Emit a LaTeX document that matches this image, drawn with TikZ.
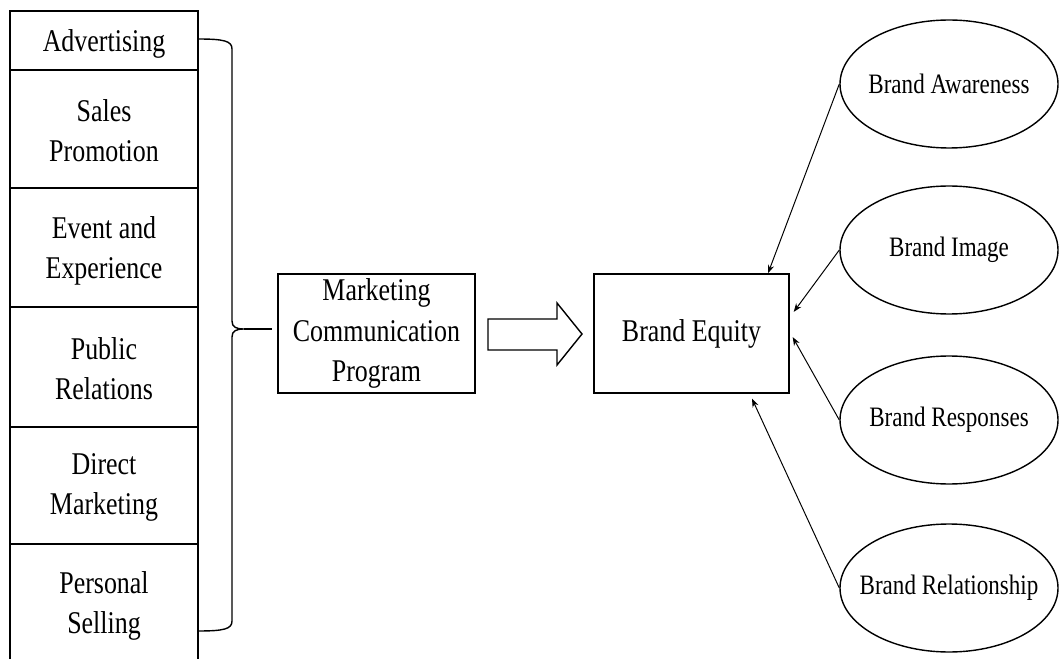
\documentclass[tikz,border=0pt]{standalone}
\usepackage{fontspec}
\setmainfont{Liberation Serif}[FakeStretch=0.82]
\usetikzlibrary{arrows.meta,shapes.geometric}
\tikzset{
	cell/.style={align=center, inner sep=0pt, font=\fontsize{22.5}{28.5}\selectfont},
	box/.style={draw, line width=1pt, minimum height=2.975cm, inner sep=0pt, align=center, font=\fontsize{22.5}{28.5}\selectfont},
	dim/.style={draw, ellipse, line width=1pt, minimum width=5.45cm, minimum height=3.2cm, inner xsep=-0.5cm, inner ysep=0pt, font=\fontsize{20}{24}\selectfont},
	link/.style={line width=0.7pt, -{Stealth[length=6pt,width=4.5pt]}}
}

\begin{document}
\begin{tikzpicture}
			%%%%% START %%%%%
			\useasboundingbox (0, 0) rectangle (26.475, 16.475);
			
			% column of communication tools
			\draw[line width=1pt] (0.25, 0) -- (0.25, 16.2) -- (4.95, 16.2) -- (4.95, 0);
			\foreach \y in {14.725, 11.775, 8.8, 5.8, 2.875}
				\draw[line width=1pt] (0.25, \y) -- (4.95, \y);
			
			\node[cell] (adv) at (2.6, 15.38) {Advertising};
			\node[cell] (sales) at (2.6, 13.2) {Sales\\Promotion};
			\node[cell] (event) at (2.6, 10.2) {Event and\\Experience};
			\node[cell] (pr) at (2.6, 7.25) {Public\\Relations};
			\node[cell] (direct) at (2.6, 4.3) {Direct\\Marketing};
			\node[cell] (selling) at (2.6, 1.33) {Personal\\Selling};
			
			% brace
			\coordinate (tip) at (6.1, 8.25);
			\draw[line width=1pt] (4.95, 15.5) .. controls (5.6, 15.5) and (5.8, 15.45) .. (5.8, 15.25)
				-- (5.8, 8.45) .. controls (5.8, 8.3) and (5.9, 8.25) .. (tip)
				.. controls (5.9, 8.25) and (5.8, 8.2) .. (5.8, 8.05)
				-- (5.8, 0.95) .. controls (5.8, 0.75) and (5.6, 0.7) .. (4.95, 0.7);
			\draw[line width=1pt] (tip) -- ++(0.7, 0);
			
			\node[box, minimum width=4.925cm] (mcp) at (9.4125, 8.1375) {Marketing\\Communication\\Program};
			
			% block arrow
			\draw[line width=1pt] (12.2, 8.5) -- (13.925, 8.5) -- (13.925, 8.9) -- (14.55, 8.125)
				-- (13.925, 7.35) -- (13.925, 7.725) -- (12.2, 7.725) -- cycle;
			
			\node[box, minimum width=4.875cm] (equity) at (17.2875, 8.1375) {Brand Equity};
			
			% dimensions
			\node[dim] (aware) at (23.725, 14.375) {Brand Awareness};
			\node[dim] (image) at (23.725, 10.225) {Brand Image};
			\node[dim] (resp) at (23.725, 5.975) {Brand Responses};
			\node[dim] (rel) at (23.725, 1.775) {Brand Relationship};
			
			\draw[link] (aware.west) -- ([xshift=1.9125cm]equity.north);
			\draw[link] (image.west) -- ([shift={(0.1, 0.54)}]equity.east);
			\draw[link] (resp.west) -- ([shift={(0.075, -0.09)}]equity.east);
			\draw[link] (rel.west) -- ([shift={(1.5125, -0.125)}]equity.south);
			
			%%%%% END %%%%%
\end{tikzpicture}
\end{document}
